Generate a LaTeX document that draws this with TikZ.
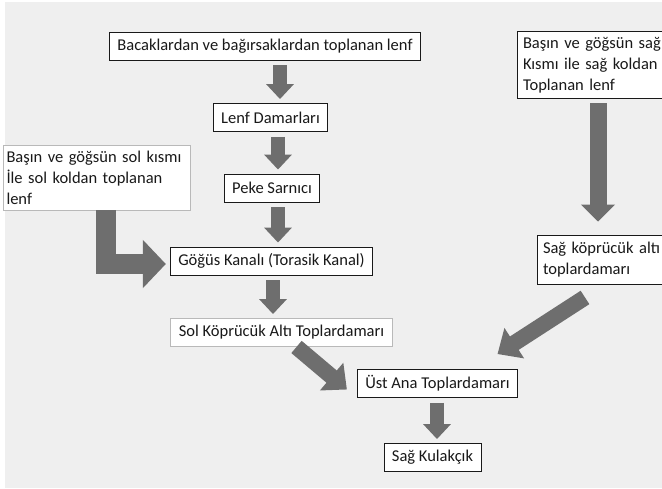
\documentclass[tikz,border=0pt]{standalone}
\usepackage{fontspec}
\setmainfont{Carlito}
\usepackage{xcolor}
\usetikzlibrary{arrows.meta}
\definecolor{bggray}{RGB}{239,239,239}
\definecolor{arrowgray}{RGB}{110,110,110}
\definecolor{inkblack}{RGB}{25,25,25}
\tikzset{
  box/.style={draw=inkblack,line width=0.9pt,fill=white,text=inkblack,
    inner xsep=8pt,inner ysep=2pt,minimum height=28pt,
    font=\fontsize{16.5}{21}\selectfont},
  softbox/.style={box,draw=gray!55},
  notebox/.style={box,align=left,inner xsep=3pt},
  openbox/.style={notebox,draw=none},
  downarrow/.style={arrowgray,line width=14pt,shorten <=5pt,shorten >=4pt,
    -{Triangle[width=27pt,length=15pt]}},
  longarrow/.style={arrowgray,line width=17pt,
    -{Triangle[width=33pt,length=17pt]}},
  slantarrow/.style={arrowgray,line width=16pt,
    -{Triangle[width=35pt,length=20pt]}},
  elbowarrow/.style={arrowgray,line width=20pt,line join=miter,
    -{Triangle[width=47pt,length=23pt]}}
}

\begin{document}
\begin{tikzpicture}[x=1pt,y=-1pt]
    \fill[white] (0,0) rectangle (662,488);
    \fill[bggray] (5,2) rectangle (662,488);
    \useasboundingbox (0,0) rectangle (662,488);
    %
    \node[box] (bacak) at (265,46) {Bacaklardan ve bağırsaklardan toplanan lenf};
    \node[box] (damar) at (270.5,117.5) {Lenf Damarları};
    \node[box] (peke) at (272,188) {Peke Sarnıcı};
    \node[box] (gogus) at (271.5,261) {Göğüs Kanalı (Torasik Kanal)};
    \node[softbox] (solkop) at (281.5,332.5) {Sol Köprücük Altı Toplardamarı};
    \node[box] (ustana) at (437.5,383.5) {Üst Ana Toplardamarı};
    \node[box] (kulak) at (432.5,457.5) {Sağ Kulakçık};
    %
    \node[notebox,draw=gray!55,text width=181pt,minimum height=65pt] (solbas) at (97,177.5)
      {Başın ve göğsün sol kısmı\\İle sol koldan toplanan\\lenf};
    % the two right boxes run off the page
    \begin{scope}
      \clip (0,0) rectangle (662,488);
      \node[openbox,text width=176pt,minimum height=66pt] (sagbas) at (609,65)
        {\hspace{2pt}Başın ve göğsün sağ\\\hspace{2pt}Kısmı ile sağ koldan\\\hspace{2pt}Toplanan lenf};
      \node[openbox,text width=156pt,minimum height=48pt] (sagkop) at (619,260)
        {\hspace{2pt}Sağ köprücük altı\\\hspace{2pt}toplardamarı};
      \draw[inkblack,line width=0.9pt] (sagbas.north east) -- (sagbas.north west)
        -- (sagbas.south west) -- (sagbas.south east);
      \draw[inkblack,line width=0.9pt] (sagkop.north east) -- (sagkop.north west)
        -- (sagkop.south west) -- (sagkop.south east);
    \end{scope}
    %
    \coordinate (colA) at (280,0);
    \coordinate (colB) at (278,0);
    \coordinate (colC) at (273,0);
    \coordinate (colD) at (437,0);
    \coordinate (colR) at (598,0);
    \coordinate (elb) at (106,0);
    %
    \draw[downarrow] (bacak.south -| colA) -- (damar.north -| colA);
    \draw[downarrow] (damar.south -| colB) -- (peke.north -| colB);
    \draw[downarrow] (peke.south -| colB) -- (gogus.north -| colB);
    \draw[downarrow] (gogus.south -| colC) -- (solkop.north -| colC);
    \draw[downarrow] (ustana.south -| colD) -- (kulak.north -| colD);
    \draw[longarrow] ([yshift=-5pt]sagbas.south -| colR) -- ([yshift=14pt]sagkop.north -| colR);
    \draw[elbowarrow] (solbas.south -| elb) |- ([xshift=-4pt,yshift=-3pt]gogus.west);
    \draw[slantarrow] ([xshift=15pt]solkop.south) -- ([xshift=-10pt,yshift=-6pt]ustana.west);
    \draw[slantarrow] ([xshift=-34pt,yshift=-13pt]sagkop.south) -- ([xshift=60pt,yshift=15pt]ustana.north);
\end{tikzpicture}
\end{document}
